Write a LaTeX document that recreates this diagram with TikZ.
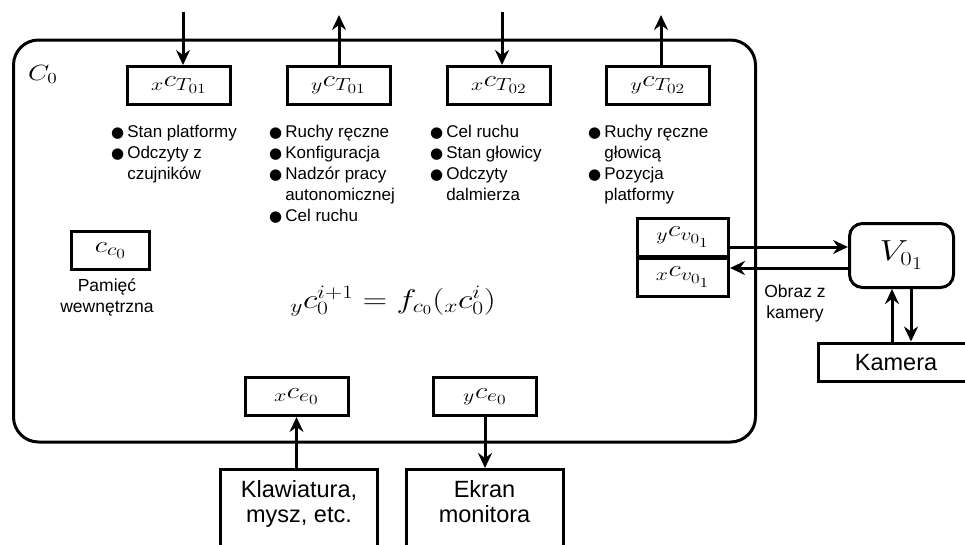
\RequirePackage{fix-cm}
\documentclass[tikz,border=0pt]{standalone}
\usepackage{graphicx}
\usepackage{fontspec}
\setmainfont{Liberation Sans}
\newfontfamily\bulfont{DejaVu Sans}
\usetikzlibrary{arrows.meta}
\DeclareMathSizes{23}{23}{17.5}{14}
\DeclareMathSizes{29}{29}{20}{18}
\newcommand{\bul}{{\bulfont\fontsize{15}{15}\selectfont ●}}
\newcommand{\hs}[1]{\scalebox{1.25}[1]{#1}}
\newcommand{\blist}[1]{\begin{tabular}[t]{@{}l@{\hspace{3pt}}l@{}}#1\end{tabular}}
\newcommand{\clines}[1]{\begin{tabular}[t]{@{}c@{}}#1\end{tabular}}
\tikzset{
  lw/.style={line width=3pt},
  mbox/.style={draw, lw, inner sep=0pt, minimum height=38pt, minimum width=103pt,
    font=\fontsize{23}{27}\selectfont},
  arr/.style={lw, -{Stealth[length=15pt,width=14pt,inset=5pt]}},
  lst/.style={anchor=base west, inner sep=0pt, font=\fontsize{17}{21}\selectfont},
  ctext/.style={anchor=base, inner sep=0pt, font=\fontsize{17.5}{21.5}\selectfont},
  btext/.style={anchor=base, inner sep=0pt, font=\fontsize{23.5}{25}\selectfont},
  obox/.style={draw, lw, inner sep=0pt}
}
\begin{document}
\begin{tikzpicture}[x=1pt,y=-1pt]
\useasboundingbox (0,0) rectangle (965,544);
\clip (0,0) rectangle (965,544);

% main frame
\node[obox, rounded corners=25pt, minimum width=742pt, minimum height=402pt] (c0) at (384.5,241) {};
\node[anchor=base west, inner sep=0pt, font=\fontsize{22}{26}\selectfont] (c0lab) at (28,80) {\hs{$C_0$}};

% top boxes
\node[mbox] (xT1) at (179,85.5) {\hs{${}_{x}c_{T_{01}}$}};
\node[mbox] (yT1) at (338.5,85.5) {\hs{${}_{y}c_{T_{01}}$}};
\node[mbox] (xT2) at (499,85.5) {\hs{${}_{x}c_{T_{02}}$}};
\node[mbox] (yT2) at (658,85.5) {\hs{${}_{y}c_{T_{02}}$}};

% top arrows
\coordinate (in1) at (183,12);
\coordinate (out1) at (339,15);
\coordinate (in2) at (502,12);
\coordinate (out2) at (661,15);
\draw[arr] (in1) -- (in1 |- xT1.north);
\draw[arr] (out1 |- yT1.north) -- (out1);
\draw[arr] (in2) -- (in2 |- xT2.north);
\draw[arr] (out2 |- yT2.north) -- (out2);

% bullet lists
\node[lst] (l1) at (111,137) {\blist{\bul & Stan platformy\\ \bul & Odczyty z\\ & czujników}};
\node[lst] (l2) at (269,137) {\blist{\bul & Ruchy ręczne\\ \bul & Konfiguracja\\ \bul & Nadzór pracy\\ & autonomicznej\\ \bul & Cel ruchu}};
\node[lst] (l3) at (430,137) {\blist{\bul & Cel ruchu\\ \bul & Stan głowicy\\ \bul & Odczyty\\ & dalmierza}};
\node[lst] (l4) at (588,137) {\blist{\bul & Ruchy ręczne\\ & głowicą\\ \bul & Pozycja\\ & platformy}};

% memory
\node[mbox, minimum width=78pt] (cc0) at (110.5,250.5) {\hs{$c_{c_0}$}};
\node[ctext] (mem) at (107,291) {\clines{Pamięć\\wewnętrzna}};

% equation
\node[anchor=base, inner sep=0pt, font=\fontsize{27}{31}\selectfont] (eq) at (393,308)
  {\hs{${}_{y}c_0^{i+1} = f_{c_0}({}_{x}c_0^{i})$}};

% bottom boxes inside
\node[mbox] (xe0) at (296.5,396.5) {\hs{${}_{x}c_{e_0}$}};
\node[mbox] (ye0) at (485,396.5) {\hs{${}_{y}c_{e_0}$}};

% external bottom boxes
\node[obox, minimum width=157pt, minimum height=120pt, anchor=north] (klaw) at (299,468) {};
\node[btext] (klawt) at (299,497) {\clines{Klawiatura,\\mysz, etc.}};
\node[obox, minimum width=157pt, minimum height=120pt, anchor=north] (ekr) at (484.5,468) {};
\node[btext] (ekrt) at (484.5,497) {\clines{Ekran\\monitora}};
\draw[arr] (klaw.north -| xe0.south) -- (xe0.south);
\draw[arr] (ye0.south) -- (ye0.south |- ekr.north);

% vision interface
\node[mbox, minimum width=91pt, minimum height=38pt] (ycv) at (683,237) {\hs{${}_{y}c_{v_{0_1}}$}};
\node[mbox, minimum width=91pt, minimum height=38pt] (xcv) at (683,277) {\hs{${}_{x}c_{v_{0_1}}$}};
\node[obox, rounded corners=13pt, minimum width=104pt, minimum height=64pt,
  font=\fontsize{29}{33}\selectfont] (V) at (901.5,255.5) {\hs{$V_{0_1}$}};
\coordinate (h1) at (0,247);
\coordinate (h2) at (0,268);
\draw[arr] (ycv.east |- h1) -- (V.west |- h1);
\draw[arr] (V.west |- h2) -- (xcv.east |- h2);
\node[ctext] (obr) at (795,297) {\clines{Obraz z\\kamery}};

% camera
\node[obox, minimum width=156pt, minimum height=38pt, anchor=west] (kam) at (817,362) {};
\node[btext] (kamt) at (896,370) {Kamera};
\coordinate (ku) at ([xshift=-9.5pt]V.south);
\coordinate (kd) at ([xshift=9.5pt]V.south);
\draw[arr] (ku |- kam.north) -- (ku);
\draw[arr] (kd) -- (kd |- kam.north);
\end{tikzpicture}
\end{document}
